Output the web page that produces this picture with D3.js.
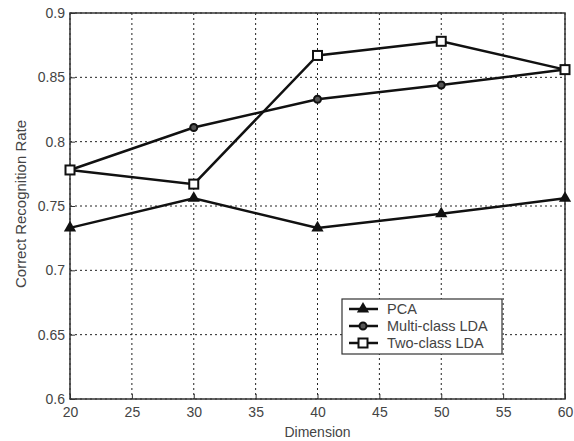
<!DOCTYPE html>
<html>
<head>
<meta charset="utf-8">
<script src="https://cdn.jsdelivr.net/npm/d3@7"></script>
<style>
    body { margin: 0; background: #fff; }
    text { font-family: "Liberation Sans", Arial, sans-serif; fill: #444; }
</style>
</head>
<body>
<svg id="chart" width="574" height="441"></svg>
<script>
// Data
const dimensions = [20, 30, 40, 50, 60];
const pca = [0.733, 0.756, 0.733, 0.744, 0.756];
const multiLda = [0.778, 0.811, 0.833, 0.844, 0.856];
const twoLda = [0.778, 0.767, 0.867, 0.878, 0.856];
const seriesNames = ['PCA', 'Multi-class LDA', 'Two-class LDA'];
const xTicks = [20, 25, 30, 35, 40, 45, 50, 55, 60];
const yTicks = [0.6, 0.65, 0.7, 0.75, 0.8, 0.85, 0.9];

const margin = {top: 13, right: 9, bottom: 42, left: 70};
const width = 574 - margin.left - margin.right;
const height = 441 - margin.top - margin.bottom;

const svg = d3.select('#chart');
const g = svg.append('g')
    .attr('transform', `translate(${margin.left},${margin.top})`);

// Scales
const x = d3.scaleLinear().domain([20, 60]).range([0, width]);
const y = d3.scaleLinear().domain([0.6, 0.9]).range([height, 0]);

// Dotted grid
g.append('g')
    .selectAll('line')
    .data(xTicks)
    .enter()
    .append('line')
    .attr('x1', d => x(d)).attr('x2', d => x(d))
    .attr('y1', 0).attr('y2', height)
    .attr('stroke', '#222')
    .attr('stroke-width', 1)
    .attr('stroke-dasharray', '2,3');

g.append('g')
    .selectAll('line')
    .data(yTicks)
    .enter()
    .append('line')
    .attr('x1', 0).attr('x2', width)
    .attr('y1', d => y(d)).attr('y2', d => y(d))
    .attr('stroke', '#222')
    .attr('stroke-width', 1)
    .attr('stroke-dasharray', '2,3');

// Axes
const xAxis = g.append('g')
    .attr('transform', `translate(0,${height})`)
    .call(d3.axisBottom(x).tickValues(xTicks).tickSize(-5).tickPadding(8).tickFormat(d3.format('d')));
const yAxis = g.append('g')
    .call(d3.axisLeft(y).tickValues(yTicks).tickSize(-5).tickPadding(5).tickFormat(d => String(+d.toFixed(2))));

[xAxis, yAxis].forEach(ax => {
    ax.select('.domain').remove();
    ax.selectAll('line').attr('stroke', '#333');
    ax.selectAll('text')
        .style('font-size', '14px')
        .style('font-family', '"Liberation Sans", Arial, sans-serif')
        .attr('fill', '#555');
});

// Plot frame
g.append('rect')
    .attr('x', 0).attr('y', 0)
    .attr('width', width).attr('height', height)
    .attr('fill', 'none')
    .attr('stroke', '#333')
    .attr('stroke-width', 1.5);

// Axis labels
svg.append('text')
    .attr('x', margin.left + width / 2)
    .attr('y', 437)
    .attr('text-anchor', 'middle')
    .style('font-size', '14px')
    .text('Dimension');

svg.append('text')
    .attr('transform', `translate(26,${margin.top + height / 2 - 2}) rotate(-90)`)
    .attr('text-anchor', 'middle')
    .attr('textLength', 168)
    .attr('lengthAdjust', 'spacingAndGlyphs')
    .style('font-size', '14px')
    .text('Correct Recognition Rate');

// Markers
function drawMarker(sel, kind) {
    if (kind === 'tri') {
        sel.append('path')
            .attr('d', d3.symbol().type(d3.symbolTriangle).size(65))
            .attr('fill', '#111');
    } else if (kind === 'circ') {
        sel.append('circle').attr('r', 3.5)
            .attr('fill', '#555').attr('stroke', '#111').attr('stroke-width', 2);
    } else {
        sel.append('rect').attr('x', -4.5).attr('y', -4.5).attr('width', 9).attr('height', 9)
            .attr('fill', '#fff').attr('stroke', '#111').attr('stroke-width', 2);
    }
}

const series = [
    {name: seriesNames[0], values: pca, marker: 'tri'},
    {name: seriesNames[1], values: multiLda, marker: 'circ'},
    {name: seriesNames[2], values: twoLda, marker: 'sq'}
];

const line = d3.line()
    .x((d, i) => x(dimensions[i]))
    .y(d => y(d));

series.forEach(s => {
    g.append('path')
        .datum(s.values)
        .attr('d', line)
        .attr('fill', 'none')
        .attr('stroke', '#111')
        .attr('stroke-width', 2.5);
    s.values.forEach((v, i) => {
        const m = g.append('g').attr('transform', `translate(${x(dimensions[i])},${y(v)})`);
        drawMarker(m, s.marker);
    });
});

// Legend
const legend = svg.append('g').attr('transform', 'translate(342,299)');
legend.append('rect')
    .attr('width', 160).attr('height', 55)
    .attr('fill', '#fff')
    .attr('stroke', '#333')
    .attr('stroke-width', 1.2);

series.forEach((s, i) => {
    const row = legend.append('g').attr('transform', `translate(0,${10 + i * 17})`);
    row.append('line')
        .attr('x1', 7).attr('x2', 36)
        .attr('stroke', '#111').attr('stroke-width', 2.5);
    drawMarker(row.append('g').attr('transform', 'translate(21,0)'), s.marker);
    row.append('text')
        .attr('x', 45).attr('y', 5)
        .style('font-size', '14.5px')
        .text(s.name);
});
</script>
</body>
</html>
